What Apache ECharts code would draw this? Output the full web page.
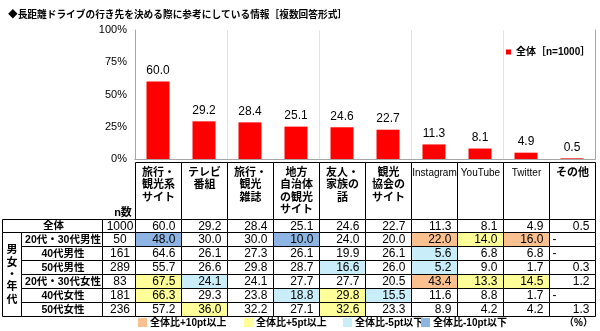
<!DOCTYPE html>
<html>
<head>
<meta charset="utf-8">
<script src="https://cdn.jsdelivr.net/npm/echarts@6/dist/echarts.min.js"></script>
<style>html,body{margin:0;padding:0;background:#fff;}#c{width:600px;height:331px;}</style>
</head>
<body>
<div id="c"></div>
<script>
// ---- data ----
const titleText = '◆長距離ドライブの行き先を決める際に参考にしている情報［複数回答形式］';
const seriesName = '全体［n=1000］';
const categories = ['旅行・\n観光系\nサイト', 'テレビ\n番組', '旅行・\n観光\n雑誌', '地方\n自治体\nの観光\nサイト', '友人・\n家族の\n話', '観光\n協会の\nサイト', 'Instagram', 'YouTube', 'Twitter', 'その他'];
const total = [60.0, 29.2, 28.4, 25.1, 24.6, 22.7, 11.3, 8.1, 4.9, 0.5];
const yTicks = [0, 25, 50, 75, 100];
const rowLabels = ['全体', '20代・30代男性', '40代男性', '50代男性', '20代・30代女性', '40代女性', '50代女性'];
const nValues = [1000, 50, 161, 289, 83, 181, 236];
const male2030 = [48.0, 30.0, 30.0, 10.0, 24.0, 20.0, 22.0, 14.0, 16.0, null];
const male40 = [64.6, 26.1, 27.3, 26.1, 19.9, 26.1, 5.6, 6.8, 6.8, null];
const male50 = [55.7, 26.6, 29.8, 28.7, 16.6, 26.0, 5.2, 9.0, 1.7, 0.3];
const female2030 = [67.5, 24.1, 24.1, 27.7, 27.7, 20.5, 43.4, 13.3, 14.5, 1.2];
const female40 = [66.3, 29.3, 23.8, 18.8, 29.8, 15.5, 11.6, 8.8, 1.7, null];
const female50 = [57.2, 36.0, 32.2, 27.1, 32.6, 23.3, 8.9, 4.2, 4.2, 1.3];
const groupLabel = '男\n女\n・\n年\n代';
const nHeader = 'n数';
const keyLabels = ['全体比+10pt以上', '全体比+5pt以上', '全体比-5pt以下', '全体比-10pt以下'];
const unitLabel = '（%）';

// ---- styles ----
const FONT = '"Liberation Sans", Arial, "Noto Sans CJK JP", sans-serif';
const keyColors = ['#FAC090', '#FFFF99', '#C9EEFA', '#8DB4E2'];
const HEADER_H = 57;
const TABLE_LEFT = 2, LABEL_LEFT = 21, N_LEFT = 102;

const tableRows = [total, male2030, male40, male50, female2030, female40, female50];
function levelColor(v, base) {
  if (v === null || v === undefined) return '#fff';
  const d = v - base;
  if (d >= 10) return keyColors[0];
  if (d >= 5) return keyColors[1];
  if (d <= -10) return keyColors[3];
  if (d <= -5) return keyColors[2];
  return '#fff';
}
const cells = [];
tableRows.forEach((row, r) => row.forEach((v, c) => {
  cells.push({ c: c, r: r, v: v, color: r === 0 ? '#fff' : levelColor(v, total[c]) });
}));

function snap(v) { return Math.round(v - 0.5) + 0.5; }

function headerRender(params, api) {
  const c = api.value(0);
  const p = api.coord([c, 0]);
  const s = api.size([1, 1]);
  const x0 = snap(p[0] - s[0] / 2), x1 = snap(p[0] + s[0] / 2);
  const yb = snap(params.coordSys.y), yt = snap(params.coordSys.y - HEADER_H);
  const label = categories[c];
  const en = /^[A-Za-z]/.test(label);
  return { type: 'group', children: [
    { type: 'rect', shape: { x: x0, y: yt, width: x1 - x0, height: yb - yt },
      style: { fill: 'none', stroke: '#000', lineWidth: 1 } },
    { type: 'text', style: { text: label, x: (x0 + x1) / 2, y: yt + 4.5, align: 'center', verticalAlign: 'top',
      fontSize: en ? 10 : 11, fontWeight: en ? 'normal' : 'bold', lineHeight: 12.2, fontFamily: FONT, fill: '#000' } }
  ] };
}

function cellRender(params, api) {
  const d = cells[params.dataIndex];
  const p = api.coord([d.c, d.r]);
  const s = api.size([1, 1]);
  const x0 = snap(p[0] - s[0] / 2), x1 = snap(p[0] + s[0] / 2);
  const y0 = snap(p[1] - s[1] / 2), y1 = snap(p[1] + s[1] / 2);
  const isNull = d.v === null;
  return { type: 'group', children: [
    { type: 'rect', shape: { x: x0, y: y0, width: x1 - x0, height: y1 - y0 },
      style: { fill: d.color, stroke: '#000', lineWidth: 1 } },
    { type: 'text', style: { text: isNull ? '-' : d.v.toFixed(1), x: isNull ? x0 + 3 : x1 - 6, y: (y0 + y1) / 2 + 0.5,
      align: isNull ? 'left' : 'right', verticalAlign: 'middle', fontSize: 12, fontFamily: FONT, fill: '#000' } }
  ] };
}

function rowHeadRender(params, api) {
  const r = api.value(1);
  const p = api.coord([0, r]);
  const s = api.size([1, 1]);
  const y0 = snap(p[1] - s[1] / 2), y1 = snap(p[1] + s[1] / 2);
  const gx = snap(params.coordSys.x);
  const tl = snap(TABLE_LEFT), ll = snap(LABEL_LEFT), nl = snap(N_LEFT);
  const ym = (y0 + y1) / 2 + 0.5;
  const children = [];
  const lx = r === 0 ? tl : ll;
  children.push({ type: 'rect', shape: { x: lx, y: y0, width: nl - lx, height: y1 - y0 }, style: { fill: '#fff', stroke: '#000', lineWidth: 1 } });
  children.push({ type: 'text', style: { text: rowLabels[r], x: (lx + nl) / 2 + 1, y: ym, align: 'center', verticalAlign: 'middle', fontSize: 10.5, fontWeight: 'bold', fontFamily: FONT, fill: '#000' } });
  children.push({ type: 'rect', shape: { x: nl, y: y0, width: gx - nl, height: y1 - y0 }, style: { fill: '#fff', stroke: '#000', lineWidth: 1 } });
  children.push({ type: 'text', style: { text: String(nValues[r]), x: (nl + gx) / 2 + 1, y: ym, align: 'center', verticalAlign: 'middle', fontSize: 12, fontFamily: FONT, fill: '#000' } });
  if (r === 0) {
    children.push({ type: 'text', style: { text: nHeader, x: (nl + gx) / 2 + 4, y: y0 - 7, align: 'center', verticalAlign: 'middle', fontSize: 11, fontWeight: 'bold', fontFamily: FONT, fill: '#000' } });
  }
  if (r === 1) {
    const gh = snap(p[1] - s[1] / 2 + s[1] * (rowLabels.length - 1)) - y0;
    children.push({ type: 'rect', shape: { x: tl, y: y0, width: ll - tl, height: gh }, style: { fill: '#fff', stroke: '#000', lineWidth: 1 } });
    children.push({ type: 'text', style: { text: groupLabel, x: (tl + ll) / 2, y: y0 + gh / 2 + 0.5, align: 'center', verticalAlign: 'middle', fontSize: 11, fontWeight: 'bold', lineHeight: 12.3, fontFamily: FONT, fill: '#000' } });
  }
  return { type: 'group', children: children };
}

// bottom key
const keyX = [138, 244, 343, 421];
const graphics = [];
keyLabels.forEach((t, i) => {
  graphics.push({ type: 'rect', left: keyX[i], top: 318, shape: { width: 9, height: 9 }, style: { fill: keyColors[i] } });
  graphics.push({ type: 'text', left: keyX[i] + 12, top: 318, style: { text: t, fontSize: 10, fontWeight: 'bold', fontFamily: FONT, fill: '#000' } });
});
graphics.push({ type: 'text', right: 7, top: 318, style: { text: unitLabel, fontSize: 10, fontWeight: 'bold', fontFamily: FONT, fill: '#000' } });

const chart = echarts.init(document.getElementById('c'), null, { renderer: 'canvas' });
const gray = '#A6A6A6';
chart.setOption({
  animation: false,
  backgroundColor: '#fff',
  textStyle: { fontFamily: FONT },
  title: { text: titleText, left: 3, top: 5, textStyle: { fontSize: 9.7, fontWeight: 'bold', color: '#000', fontFamily: FONT } },
  legend: { data: [seriesName], left: 501, top: 42, icon: 'rect', itemWidth: 5, itemHeight: 5,
    textStyle: { fontSize: 10, fontWeight: 'bold', color: '#000', fontFamily: FONT } },
  grid: [
    { left: 135, right: 5, top: 30, bottom: 172 },
    { left: 135, right: 5, top: 219, height: 97 }
  ],
  xAxis: [
    { gridIndex: 0, type: 'category', data: categories,
      axisLine: { lineStyle: { color: gray } }, axisTick: { show: false },
      splitLine: { show: true, lineStyle: { color: '#E3E3E3' } },
      axisLabel: { show: false } },
    { gridIndex: 0, type: 'category', data: categories, position: 'top',
      axisLine: { show: true, lineStyle: { color: gray } }, axisTick: { show: false }, axisLabel: { show: false }, splitLine: { show: false } },
    { gridIndex: 1, type: 'category', data: categories, show: false }
  ],
  yAxis: [
    { gridIndex: 0, type: 'value', min: yTicks[0], max: yTicks[yTicks.length - 1], interval: yTicks[1] - yTicks[0],
      axisLine: { show: true, lineStyle: { color: gray } }, axisTick: { show: false }, splitLine: { show: false },
      axisLabel: { formatter: '{value}%', fontSize: 11, color: '#000', margin: 8, fontFamily: FONT } },
    { gridIndex: 0, type: 'value', min: yTicks[0], max: yTicks[yTicks.length - 1], position: 'right',
      axisLine: { show: true, lineStyle: { color: gray } }, axisTick: { show: false }, axisLabel: { show: false }, splitLine: { show: false } },
    { gridIndex: 1, type: 'category', data: rowLabels, inverse: true, show: false }
  ],
  series: [
    { name: seriesName, type: 'bar', xAxisIndex: 0, yAxisIndex: 0, data: total, barWidth: 23,
      itemStyle: { color: '#FF0000' },
      label: { show: true, position: 'top', distance: 5, fontSize: 12, color: '#000', fontFamily: FONT,
        formatter: function (p) { return p.value.toFixed(1); } } },
    { type: 'custom', xAxisIndex: 2, yAxisIndex: 2, clip: false, renderItem: headerRender,
      data: categories.map(function (_, i) { return [i, 0]; }), silent: true },
    { type: 'custom', xAxisIndex: 2, yAxisIndex: 2, clip: false, renderItem: cellRender,
      data: cells.map(function (d) { return [d.c, d.r]; }), silent: true },
    { type: 'custom', xAxisIndex: 2, yAxisIndex: 2, clip: false, renderItem: rowHeadRender,
      data: rowLabels.map(function (_, r) { return [0, r]; }), silent: true }
  ],
  graphic: graphics
});
</script>
</body>
</html>
